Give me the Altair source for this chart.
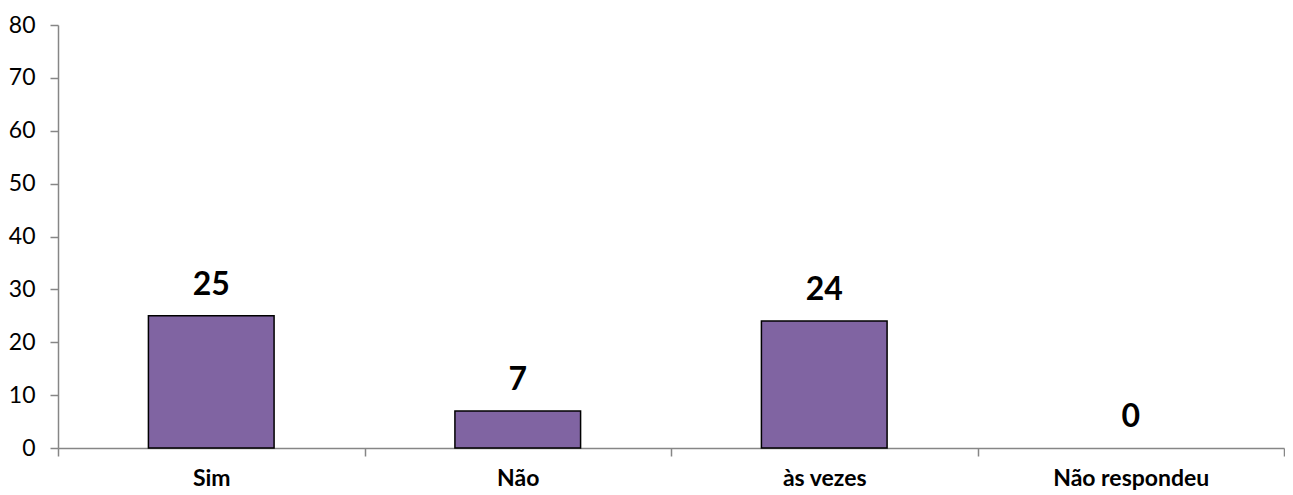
import altair as alt
import pandas as pd

categories = ["Sim", "Não", "às vezes", "Não respondeu"]
values = [25, 7, 24, 0]
y_ticks = [0, 10, 20, 30, 40, 50, 60, 70, 80]

df = pd.DataFrame({"cat": categories, "val": values})

x = alt.X("cat:N", sort=categories, title=None,
          scale=alt.Scale(paddingInner=0, paddingOuter=0),
          axis=alt.Axis(labelAngle=0, labelFont="Lato", labelFontWeight="bold",
                        labelFontSize=23, labelColor="black", labelPadding=11,
                        tickBand="extent", tickSize=8, tickColor="#868686",
                        domainColor="#868686", domainWidth=1.5, tickWidth=1.5))
y = alt.Y("val:Q", title=None,
          scale=alt.Scale(domain=[0, 80], nice=False),
          axis=alt.Axis(values=y_ticks, grid=False, labelFont="Lato",
                        labelFontSize=23, labelColor="black", labelPadding=15,
                        tickSize=8, tickColor="#868686", domainColor="#868686",
                        domainWidth=1.5, tickWidth=1.5))

bars = alt.Chart(df).transform_filter("datum.val > 0").mark_bar(
    width=alt.RelativeBandSize(0.41), color="#8064A2", stroke="black", strokeWidth=1.5
).encode(x=x, y=y)

labels = alt.Chart(df).mark_text(
    font="Lato", fontWeight="bold", fontSize=32, color="black",
    baseline="alphabetic", dy=-21
).encode(x=x, y=y, text="val:Q")

chart = (bars + labels).properties(
    width=1226, height=423,
    padding={"left": 0, "top": 6, "right": 0, "bottom": 0}
).configure(background="white").configure_view(stroke=None)

chart.save("out.html", embed_options={"renderer": "svg", "actions": False})
